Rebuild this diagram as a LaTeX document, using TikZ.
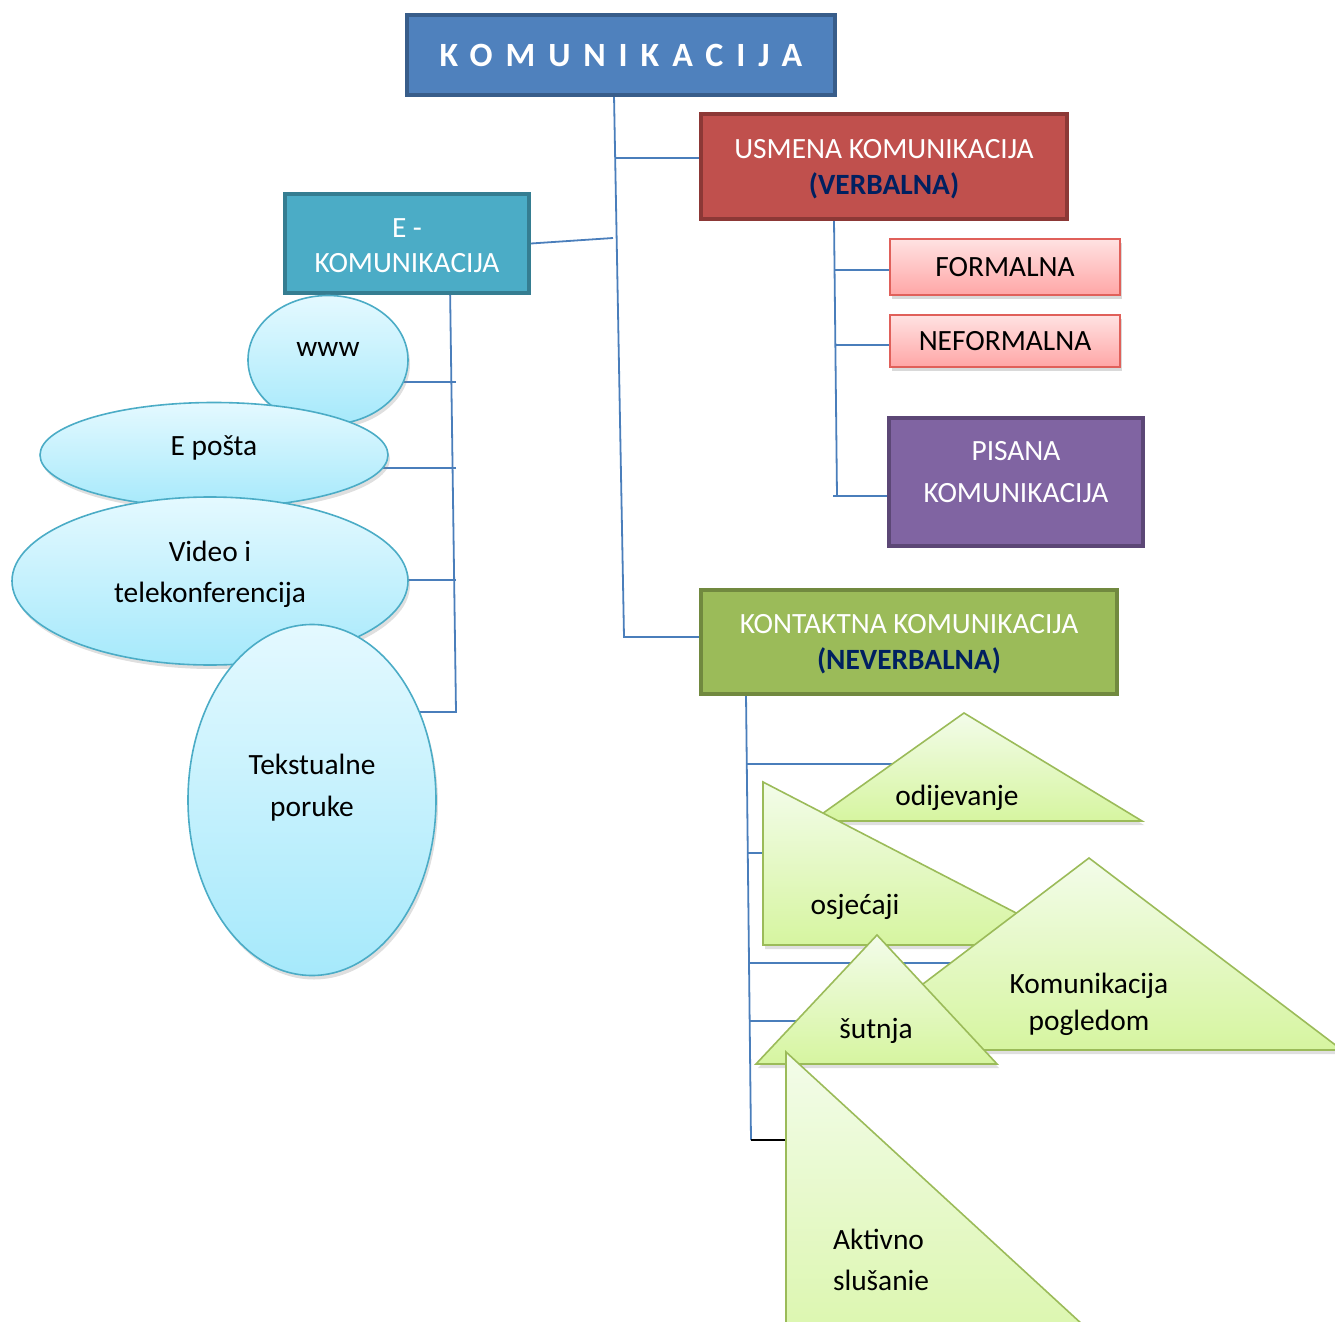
\documentclass[tikz,border=0pt]{standalone}
\usepackage{fontspec}
\setmainfont{Carlito}
\newfontfamily\titlefont[LetterSpace=38]{Carlito}
\usetikzlibrary{shapes.geometric,shadows,backgrounds,positioning}

\definecolor{kblue}{HTML}{4F81BD}
\definecolor{kblueline}{HTML}{385D8A}
\definecolor{ured}{HTML}{C0504D}
\definecolor{uredline}{HTML}{8C3836}
\definecolor{eteal}{HTML}{4BACC6}
\definecolor{etealline}{HTML}{357D91}
\definecolor{ppurple}{HTML}{8064A2}
\definecolor{ppurpleline}{HTML}{5C4776}
\definecolor{kgreen}{HTML}{9BBB59}
\definecolor{kgreenline}{HTML}{71893F}
\definecolor{navytxt}{HTML}{002060}
\definecolor{pinktop}{HTML}{FFE2E2}
\definecolor{pinkbot}{HTML}{FFA6A6}
\definecolor{pinkline}{HTML}{E0605A}
\definecolor{bubtop}{HTML}{E4F9FF}
\definecolor{bubbot}{HTML}{A6E9FB}
\definecolor{tritop}{HTML}{F3FCEA}
\definecolor{tribot}{HTML}{D6F5A0}
\definecolor{connblue}{HTML}{4A7EBB}

\tikzset{
  every node/.style={font=\fontsize{14.7}{17.6}\selectfont},
  bigbox/.style={rectangle, line width=2pt, text=white, align=center},
  pinkbox/.style={rectangle, draw=pinkline, line width=0.9pt, top color=pinktop,
    bottom color=pinkbot, minimum width=115pt,
    drop shadow={opacity=0.3, shadow xshift=1pt, shadow yshift=-2pt}},
  bubble/.style={ellipse, draw=eteal, line width=0.8pt, inner sep=0pt,
    top color=bubtop, bottom color=bubbot,
    drop shadow={opacity=0.25, shadow xshift=1pt, shadow yshift=-2pt}},
  tri/.style={draw=kgreen, line width=0.8pt, top color=tritop, bottom color=tribot,
    drop shadow={opacity=0.25, shadow xshift=1pt, shadow yshift=-2pt}},
  conn/.style={draw=connblue, line width=0.9pt},
}

\begin{document}
\begin{tikzpicture}[x=0.5pt,y=-0.5pt]
\useasboundingbox (0,0) rectangle (1335,1322);
\clip (0,0) rectangle (1335,1322);

% main boxes
\node[bigbox, fill=kblue, draw=kblueline, minimum width=214pt, minimum height=40pt,
  font=\titlefont\bfseries\fontsize{17}{20}\selectfont] (kom) at (621,55) {KOMUNIKACIJA};
\node[bigbox, fill=ured, draw=uredline, minimum width=183pt, minimum height=52.5pt,
  label={[white,align=center,yshift=-1.5pt]center:USMENA KOMUNIKACIJA\\[0.5pt]{\color{navytxt}\bfseries (VERBALNA)}}]
  (usm) at (884,166.5) {};
\node[bigbox, fill=eteal, draw=etealline, minimum width=122pt, minimum height=49.5pt,
  label={[white,align=center,yshift=-1pt]center:E -\\[0pt]KOMUNIKACIJA}] (ekom) at (407,243.5) {};
\node[pinkbox, minimum height=28pt] (form) at (1005,267) {FORMALNA};
\node[pinkbox, minimum height=26pt] (nef) at (1005,341) {NEFORMALNA};
\node[bigbox, fill=ppurple, draw=ppurpleline, minimum width=127pt, minimum height=64pt,
  label={[white,align=center,yshift=5pt]center:PISANA\\[3.5pt]KOMUNIKACIJA}] (pis) at (1016,482) {};
\node[bigbox, fill=kgreen, draw=kgreenline, minimum width=208pt, minimum height=52pt,
  label={[white,align=center,yshift=-1pt]center:KONTAKTNA KOMUNIKACIJA\\[0.5pt]{\color{navytxt}\bfseries (NEVERBALNA)}}]
  (kon) at (909,642) {};

% e-komunikacija bubbles
\node[bubble, minimum width=80pt, minimum height=64.5pt,
  label={[yshift=5.5pt]center:www}] (www) at (328,360) {};
\node[bubble, minimum width=174pt, minimum height=52.5pt,
  label={[yshift=3.5pt]center:E pošta}] (posta) at (214,455) {};
\node[bubble, minimum width=198pt, minimum height=84pt,
  label={[align=center,yshift=3.5pt]center:Video i\\[3pt]telekonferencija}] (video) at (210,581) {};
\node[bubble, minimum width=124pt, minimum height=175.5pt,
  label={[align=center,yshift=6pt]center:Tekstualne\\[3.5pt]poruke}] (tekst) at (312,800) {};

% neverbalna triangles
\path[tri] (812,821) -- (964,713) -- (1142,821) -- cycle;
\node (odi) at (957,798) {odijevanje};
\path[tri] (763,782) -- (1078,945) -- (763,945) -- cycle;
\node (osj) at (855,907) {osjećaji};
\path[tri] (836,1050) -- (1089,858) -- (1342,1050) -- cycle;
\node[align=center] (pog) at (1089,1004) {Komunikacija\\[1pt]pogledom};
\path[tri] (756,1064) -- (877,935) -- (997,1064) -- cycle;
\node (sut) at (876,1031) {šutnja};
\path[tri] (786,1052) -- (1170,1405) -- (786,1405) -- cycle;
\node[anchor=west, align=left] (akt) at (826,1260) {Aktivno\\[3pt]slušanie};

% connectors
\begin{scope}[on background layer]
  \coordinate (ktop) at (614,95);
  \coordinate (kbot) at (624,637);
  \coordinate (bu) at (615,158);
  \coordinate (be) at (613,238);
  \draw[conn] (ktop) -- (kbot) -- (kbot -| kon.west);
  \draw[conn] (bu) -- (bu -| usm.west);
  \draw[conn] (ekom.east) -- (be);

  \coordinate (utop) at (834,219);
  \coordinate (ubot) at (837,496);
  \coordinate (uf) at (835,270);
  \coordinate (un) at (836,345);
  \draw[conn] (utop) -- (ubot);
  \draw[conn] (uf) -- (uf -| form.west);
  \draw[conn] (un) -- (un -| nef.west);
  \draw[conn] ([xshift=-2pt]ubot) -- (ubot -| pis.west);

  \coordinate (etop) at (450,285);
  \coordinate (ebot) at (456,712);
  \coordinate (e1) at (456,382);
  \coordinate (e2) at (456,468);
  \coordinate (e3) at (456,580);
  \draw[conn] (etop) -- (ebot) -- (ebot -| tekst.center);
  \draw[conn] (e1) -- (e1 -| www.center);
  \draw[conn] (e2) -- (e2 -| posta.center);
  \draw[conn] (e3) -- (e3 -| video.center);

  \coordinate (ntop) at (746,694);
  \coordinate (nbot) at (751,1140);
  \coordinate (n1) at (747,764);
  \coordinate (n2) at (748,853);
  \coordinate (n3) at (749,963);
  \coordinate (n4) at (750,1021);
  \draw[conn] (ntop) -- (nbot);
  \draw[conn] (n1) -- (n1 -| odi.center);
  \draw[conn] (n2) -- (n2 -| osj.center);
  \draw[conn] (n3) -- (n3 -| pog.center);
  \draw[conn] (n4) -- (n4 -| sut.center);
  \draw[line width=0.9pt] (nbot) -- (nbot -| akt.west);
\end{scope}
\end{tikzpicture}
\end{document}
